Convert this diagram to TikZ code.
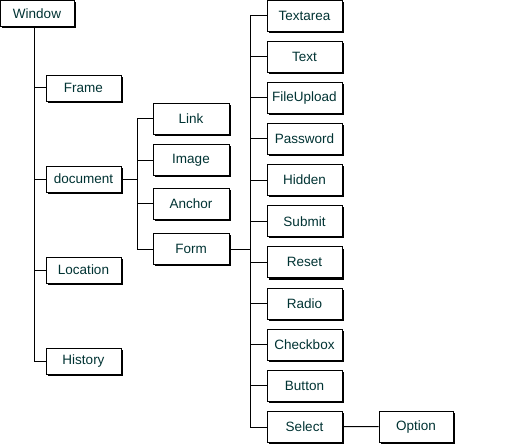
\documentclass[tikz,border=0pt]{standalone}
\usepackage{fontspec}
\setmainfont{Liberation Sans}
\usepackage{xcolor}
\usetikzlibrary{shadows}
\definecolor{labelteal}{RGB}{0,51,51}
\tikzset{
    objbox/.style={draw,fill=white,line width=0.9pt,inner sep=0pt,
        minimum width=75pt,minimum height=31pt,text=labelteal,
        font=\fontsize{13.5}{15}\selectfont,
        drop shadow={shadow xshift=1.7pt,shadow yshift=-1.7pt,fill=black,opacity=1}},
    flatbox/.style={objbox,minimum height=26pt},
    tree/.style={line width=1pt}
}
\begin{document}
\begin{tikzpicture}[x=1pt,y=-1pt]
    \useasboundingbox (0,0) rectangle (528,444);

    % top and first level
    \node[flatbox,minimum width=74pt] (win) at (37,13.5) {Window};
    \node[flatbox] (frame) at (83.5,88) {Frame};
    \node[flatbox] (doc) at (83.5,179) {document};
    \node[flatbox] (loc) at (83.5,270) {Location};
    \node[flatbox] (hist) at (83.5,361) {History};

    \foreach \n in {frame,doc,loc,hist}
        \draw[tree] ([xshift=-3pt]win.south) |- (\n.west);

    % document children
    \node[objbox,minimum width=76pt] (link) at (191,118.5) {Link};
    \node[objbox,minimum width=76pt] (image) at (191,160) {Image};
    \node[objbox,minimum width=76pt] (anchor) at (191,203.5) {Anchor};
    \node[objbox,minimum width=76pt] (form) at (191,249) {Form};

    \draw[tree] (doc.east) -- (137,179) coordinate (docj);
    \foreach \n in {link,image,anchor,form}
        \draw[tree] (docj) |- (\n.west);

    % form elements
    \draw[tree] (form.east) -- (250,249) coordinate (formj);
    \foreach \lbl/\n [count=\i from 0] in {Textarea/tarea,Text/txt,FileUpload/fup,%
        Password/pwd,Hidden/hid,Submit/sub,Reset/rst,Radio/rad,Checkbox/chk,%
        Button/btn,Select/sel}
    {
        \node[objbox] (\n) at (304.5,15.5+41.15*\i) {\lbl};
        \draw[tree] (formj) |- (\n.west);
    }

    \node[objbox,minimum width=74pt] (opt) at (416,427) {Option};
    \draw[tree] ([yshift=0.5pt]sel.east) -- ([yshift=0.5pt]opt.west);

\end{tikzpicture}
\end{document}
